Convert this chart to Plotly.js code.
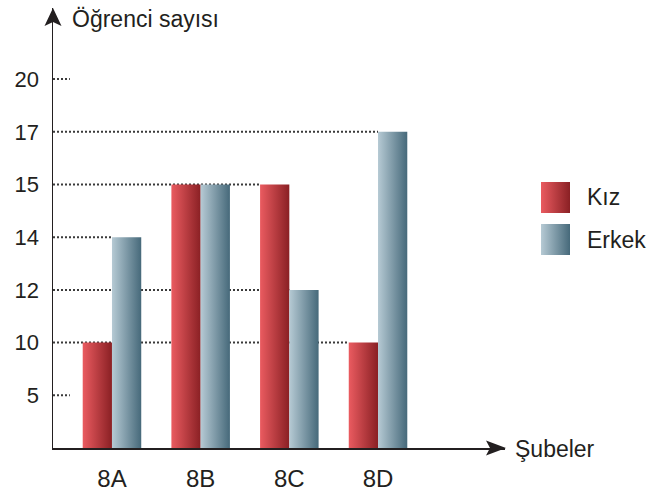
<!DOCTYPE html>
<html><head><meta charset="utf-8">
<script src="https://cdn.plot.ly/plotly-3.0.1.min.js"></script>
<style>html,body{margin:0;padding:0;background:#fff}</style>
</head><body><div id="chart" style="width:648px;height:498px"></div>
<script>
// ---- data ----
const categories = ['8A', '8B', '8C', '8D'];
const kizValues = [10, 15, 15, 10];
const erkekValues = [14, 15, 12, 17];
const yTickValues = [5, 10, 12, 14, 15, 17, 20];
const seriesNames = ['Kız', 'Erkek'];
const xAxisTitle = 'Şubeler';
const yAxisTitle = 'Öğrenci sayısı';

// ---- layout constants ----
const FONT = '"Liberation Sans", Arial, sans-serif';
const TXT = '#231f20';
const BAR_W = 0.33;
const X_MIN = -0.665, X_MAX = 4.432;
const ML = 53, MR = 143, MT = 8, MB = 50;
const W = 648 - ML - MR, H = 498 - MT - MB;
const Y_MAX = H / 52.7;
const AXY = 498 - MB;                    // pixel row of the x axis
const px = x => (x - ML) / W;            // pixel -> paper x
const py = y => (498 - MB - y) / H;      // pixel -> paper y

// the y axis is an evenly spaced ordinal scale of the tick values
const rank = v => yTickValues.indexOf(v) + 1;
const xIdx = categories.map((c, i) => i);

const colors = { kiz: ['#ea5b60', '#8a2024'], erkek: ['#b6cad4', '#46697a'] };

const data = [
  { type: 'bar', name: seriesNames[0], x: xIdx, y: kizValues.map(rank), customdata: kizValues,
    width: BAR_W, offset: -BAR_W, marker: { color: '#bb3c40', line: { width: 0 } } },
  { type: 'bar', name: seriesNames[1], x: xIdx, y: erkekValues.map(rank), customdata: erkekValues,
    width: BAR_W, offset: 0, marker: { color: '#7e9aa7', line: { width: 0 } } }
];

// leader lines: from the y axis to the left edge of the rightmost bar at that value
const shapes = [];
yTickValues.forEach(v => {
  let end = null;
  xIdx.forEach(i => {
    if (kizValues[i] === v) end = Math.max(end ?? -Infinity, i - BAR_W);
    if (erkekValues[i] === v) end = Math.max(end ?? -Infinity, i);
  });
  if (end === null) end = X_MIN + 0.19;
  shapes.push({ type: 'line', xref: 'x', yref: 'y', x0: X_MIN, x1: end, y0: rank(v), y1: rank(v),
    layer: 'below', line: { color: '#3a3a3a', width: 2, dash: '2px,2px' } });
});

// arrow heads
shapes.push({ type: 'path', xref: 'paper', yref: 'paper', layer: 'above', fillcolor: TXT, line: { width: 0 },
  path: `M ${px(53)},${py(8)} L ${px(61.5)},${py(26)} L ${px(53)},${py(22)} L ${px(44.5)},${py(26)} Z` });
shapes.push({ type: 'path', xref: 'paper', yref: 'paper', layer: 'above', fillcolor: TXT, line: { width: 0 },
  path: `M ${px(506)},${py(AXY)} L ${px(486)},${py(AXY - 7.5)} L ${px(490)},${py(AXY)} L ${px(486)},${py(AXY + 7.5)} Z` });

// legend swatches
const legendIdx = [];
legendIdx.push(shapes.length);
shapes.push({ type: 'rect', xref: 'paper', yref: 'paper', layer: 'above', fillcolor: '#bb3c40', line: { width: 0 },
  x0: px(541), x1: px(570), y0: py(213), y1: py(182) });
legendIdx.push(shapes.length);
shapes.push({ type: 'rect', xref: 'paper', yref: 'paper', layer: 'above', fillcolor: '#7e9aa7', line: { width: 0 },
  x0: px(541), x1: px(570), y0: py(255), y1: py(224) });

const annotations = [
  { xref: 'paper', yref: 'paper', x: px(70), y: py(19), xanchor: 'left', yanchor: 'middle', showarrow: false,
    text: yAxisTitle, font: { family: FONT, size: 23, color: TXT } },
  { xref: 'paper', yref: 'paper', x: px(513), y: py(449), xanchor: 'left', yanchor: 'middle', showarrow: false,
    text: xAxisTitle, font: { family: FONT, size: 23, color: TXT } },
  { xref: 'paper', yref: 'paper', x: px(585), y: py(197), xanchor: 'left', yanchor: 'middle', showarrow: false,
    text: seriesNames[0], font: { family: FONT, size: 23, color: TXT } },
  { xref: 'paper', yref: 'paper', x: px(585), y: py(240), xanchor: 'left', yanchor: 'middle', showarrow: false,
    text: seriesNames[1], font: { family: FONT, size: 23, color: TXT } }
];

const layout = {
  width: 648, height: 498,
  margin: { l: ML, r: MR, t: MT, b: MB, pad: 0 },
  paper_bgcolor: '#fff', plot_bgcolor: '#fff',
  showlegend: false, hovermode: false, barmode: 'overlay',
  font: { family: FONT, color: TXT },
  xaxis: { range: [X_MIN, X_MAX], tickvals: xIdx, ticktext: categories, showgrid: false, zeroline: false,
    showline: true, linecolor: TXT, linewidth: 1.5, ticks: '', ticklabelstandoff: 9,
    tickfont: { family: FONT, size: 24, color: TXT }, fixedrange: true },
  yaxis: { range: [0, Y_MAX], tickvals: yTickValues.map(rank), ticktext: yTickValues.map(String),
    showgrid: false, zeroline: false, showline: true, linecolor: TXT, linewidth: 1.5, ticks: '',
    ticklabelstandoff: 8, tickfont: { family: FONT, size: 22, color: TXT }, fixedrange: true },
  shapes: shapes, annotations: annotations
};

Plotly.newPlot('chart', data, layout, { staticPlot: true, displayModeBar: false }).then(gd => {
  const ns = 'http://www.w3.org/2000/svg';
  const svg = gd.querySelector('.main-svg');
  let defs = svg.querySelector('defs');
  if (!defs) { defs = document.createElementNS(ns, 'defs'); svg.insertBefore(defs, svg.firstChild); }
  function grad(id, c0, c1) {
    const g = document.createElementNS(ns, 'linearGradient');
    g.setAttribute('id', id); g.setAttribute('x1', '0'); g.setAttribute('y1', '0');
    g.setAttribute('x2', '1'); g.setAttribute('y2', '0');
    [[0, c0], [1, c1]].forEach(([o, c]) => {
      const s = document.createElementNS(ns, 'stop');
      s.setAttribute('offset', o); s.setAttribute('stop-color', c); g.appendChild(s);
    });
    defs.appendChild(g);
  }
  grad('gKiz', colors.kiz[0], colors.kiz[1]);
  grad('gErkek', colors.erkek[0], colors.erkek[1]);
  const ids = ['gKiz', 'gErkek'];
  gd.querySelectorAll('.barlayer .trace').forEach((tr, ti) => {
    tr.querySelectorAll('path').forEach(p => { p.style.fill = `url(#${ids[ti]})`; });
  });
  gd.querySelectorAll('.shapelayer path[data-index]').forEach(p => {
    const k = legendIdx.indexOf(+p.getAttribute('data-index'));
    if (k >= 0) p.style.fill = `url(#${ids[k]})`;
  });
});
</script>
</body></html>
